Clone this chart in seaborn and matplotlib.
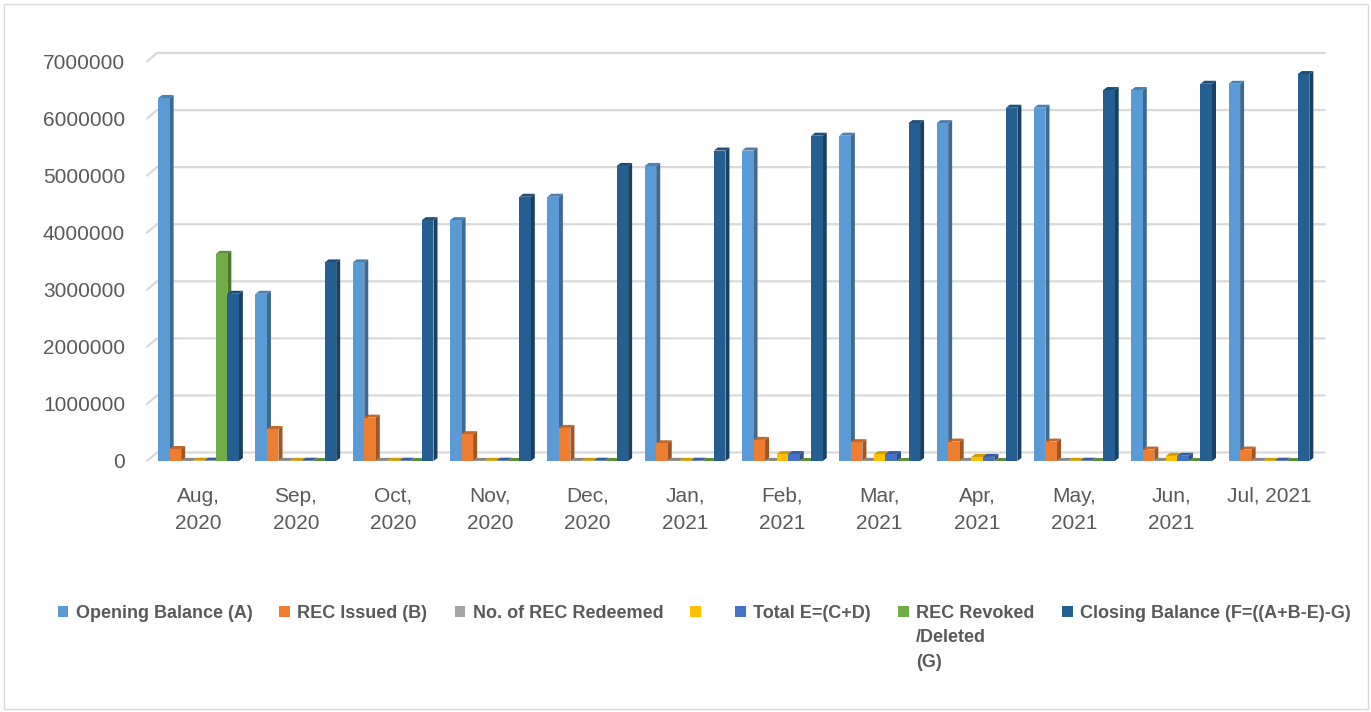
# REC balance by month, Aug 2020 - Jul 2021 (Excel-style 3D column look)
import pandas as pd
import seaborn as sns
import matplotlib.pyplot as plt
import matplotlib.colors as mcolors
from matplotlib.patches import Patch, Polygon, Rectangle
from matplotlib.text import Annotation
from matplotlib.ticker import FuncFormatter

sns.set_style('white')
plt.rcParams['font.family'] = ['Liberation Sans', 'DejaVu Sans']

# data
months = ["Aug,\n2020", "Sep,\n2020", "Oct,\n2020", "Nov,\n2020", "Dec,\n2020",
          "Jan,\n2021", "Feb,\n2021", "Mar,\n2021", "Apr,\n2021", "May,\n2021",
          "Jun,\n2021", "Jul, 2021"]
opening = [6360000, 2930000, 3480000, 4220000, 4630000, 5170000,
           5440000, 5700000, 5920000, 6190000, 6500000, 6610000]
issued = [210000, 560000, 760000, 470000, 580000, 310000,
          370000, 330000, 340000, 340000, 200000, 200000]
redeemed = [2000, 2000, 2000, 2000, 2000, 2000,
            2000, 2000, 2000, 2000, 2000, 2000]
col_d = [5000, 3000, 3000, 3000, 3000, 3000,
         120000, 120000, 70000, 3000, 90000, 3000]
total_e = [7000, 5000, 5000, 5000, 5000, 5000,
           122000, 122000, 72000, 5000, 92000, 5000]
revoked = [3630000, 0, 0, 0, 0, 0, 0, 0, 0, 0, 0, 0]
closing = [2930000, 3480000, 4220000, 4630000, 5170000, 5440000,
           5700000, 5920000, 6190000, 6500000, 6610000, 6780000]

series_keys = ['A', 'B', 'C', 'D', 'E', 'G', 'F']
legend_labels = ['Opening Balance (A)', 'REC Issued (B)', 'No. of REC Redeemed', '',
                 'Total E=(C+D)', 'REC Revoked', 'Closing Balance (F=((A+B-E)-G)']
colors = ['#5B9BD5', '#ED7D31', '#A5A5A5', '#FFC000', '#4472C4', '#70AD47', '#255E91']

df = pd.DataFrame({'Month': months, 'A': opening, 'B': issued, 'C': redeemed,
                   'D': col_d, 'E': total_e, 'G': revoked, 'F': closing})
df = df.melt('Month', var_name='Series', value_name='Value')

W, H = 1371, 712
fig = plt.figure(figsize=(W / 100, H / 100), dpi=100)
ax_l, ax_r, ax_b, ax_t = 147, 1325, 461, 61.5
ax = fig.add_axes([ax_l / W, 1 - ax_b / H, (ax_r - ax_l) / W, (ax_b - ax_t) / H])

sns.barplot(data=df, x='Month', y='Value', hue='Series', hue_order=series_keys,
            palette=colors, width=0.83, saturation=1, errorbar=None,
            legend=False, ax=ax)

xlim = (-0.529, 11.576)
ylim = (0, 7000000)
ax.set_xlim(*xlim)
ax.set_ylim(*ylim)
ux = (xlim[1] - xlim[0]) / (ax_r - ax_l)   # data units per pixel
uy = (ylim[1] - ylim[0]) / (ax_b - ax_t)

# fake 3D: side and top faces for every bar
dx, dy = 4 * ux, 3 * uy
for k, cont in enumerate(ax.containers):
    rgb = mcolors.to_rgb(colors[k])
    side = tuple(c * 0.68 for c in rgb)
    top = tuple(c * 0.82 for c in rgb)
    for bar in cont:
        bar.set_zorder(3 + 2 * k)
        bar.set_edgecolor('none')
        x0, w, h = bar.get_x(), bar.get_width(), bar.get_height()
        x1 = x0 + w
        ax.add_patch(Polygon([(x1, 0), (x1 + dx, dy), (x1 + dx, h + dy), (x1, h)],
                             closed=True, facecolor=side, edgecolor='none',
                             zorder=2 + 2 * k, clip_on=False))
        ax.add_patch(Polygon([(x0, h), (x0 + dx, h + dy), (x1 + dx, h + dy), (x1, h)],
                             closed=True, facecolor=top, edgecolor='none',
                             zorder=2 + 2 * k, clip_on=False))

# back-wall gridlines with the slanted floor edge
gx, gy = 10 * ux, 8.5 * uy
yticks = list(range(0, 7000001, 1000000))
for v in yticks:
    ax.plot([xlim[0], xlim[0] + gx, xlim[1]], [v, v + gy, v + gy],
            color='#D9D9D9', lw=1.6, zorder=0, clip_on=False)

ax.set_yticks(yticks)
ax.yaxis.set_major_formatter(FuncFormatter(lambda v, _: f"{int(v)}"))
ax.tick_params(axis='y', length=0, pad=15.8, labelsize=15, labelcolor='#595959')
ax.tick_params(axis='x', length=0, pad=18.5, labelsize=15, labelcolor='#595959')
for t in ax.get_xticklabels():
    t.set_linespacing(1.55)
ax.set_xlabel('')
ax.set_ylabel('')
sns.despine(ax=ax, left=True, bottom=True)
ax.grid(False)

# legend
handles = [Patch(facecolor=c, edgecolor='none') for c in colors]
leg = fig.legend(handles, legend_labels, loc='upper center',
                 bbox_to_anchor=(0.5135, 1 - 605 / H), ncol=7, frameon=False,
                 prop={'weight': 'bold', 'size': 13}, labelcolor='#595959',
                 handlelength=0.6, handleheight=0.6, handletextpad=0.4,
                 columnspacing=1.5, borderpad=0, borderaxespad=0)
extra = Annotation('/Deleted\n(G)', xy=(0, 0), xycoords=leg.get_texts()[5],
                   xytext=(0, -5.4), textcoords='offset points', ha='left', va='top',
                   fontsize=13, fontweight='bold', color='#595959', linespacing=1.6)
extra.set_zorder(10)
fig.add_artist(extra)

# chart frame
fig.add_artist(Rectangle((3.5 / W, 3.5 / H), (1368 - 3.5) / W, (708 - 3.5) / H,
                         transform=fig.transFigure, fill=False,
                         edgecolor='#D9D9D9', lw=1))

fig.savefig('out.png', dpi=100, facecolor='white')
